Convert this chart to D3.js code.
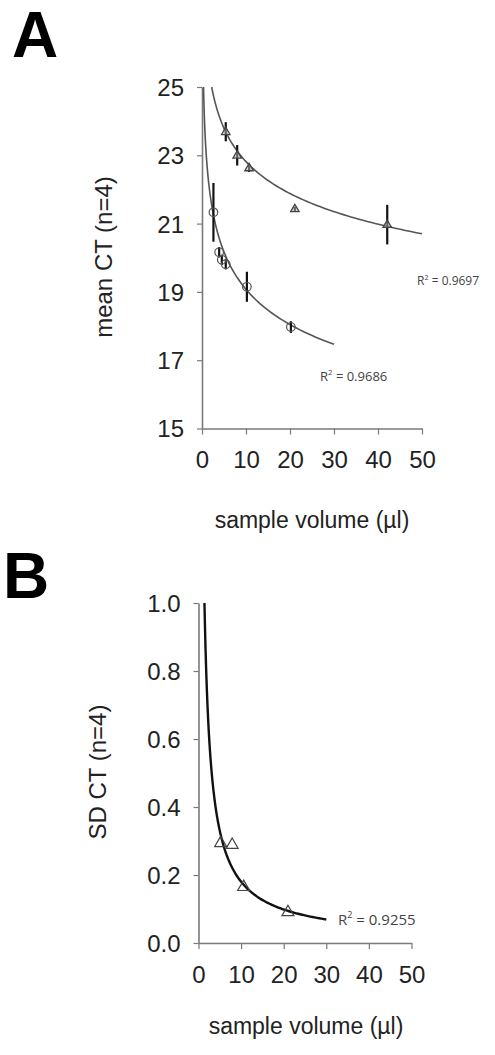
<!DOCTYPE html>
<html>
<head>
<meta charset="utf-8">
<script src="https://cdn.jsdelivr.net/npm/d3@7"></script>
<style>
  html, body { margin: 0; padding: 0; background: #fff; }
  svg { display: block; font-family: "Liberation Sans", Arial, sans-serif; }
  .tick text { fill: #222; }
  .r2 { font-family: "Open Sans", "DejaVu Sans", sans-serif; fill: #444; }
</style>
</head>
<body>
<svg id="chart" width="495" height="1055"></svg>
<script>
// ---- Panel A data: mean CT vs sample volume ----
const triVolA = [5.4, 8.0, 10.7, 21.1, 42.1];
const triMeanA = [23.69, 23.0, 22.63, 21.43, 20.97];
const triErrA = [0.28, 0.30, 0.12, 0.06, 0.58];

const circVolA = [2.6, 3.9, 4.5, 5.4, 10.2, 20.2];
const circMeanA = [21.33, 20.16, 19.94, 19.81, 19.15, 17.97];
const circErrA = [0.86, 0.15, 0.15, 0.15, 0.44, 0.17];

// power trendlines y = a * x^b  [a, b, xStart, xEnd]
const fitTriA = [26.22, -0.0604, 2.2, 50];
const fitCircA = [22.95, -0.0803, 0.345, 30];
const r2LabelsA = ["0.9697", "0.9686"];

// ---- Panel B data: SD CT vs sample volume ----
const triVolB = [5.2, 7.9, 10.6, 21.0];
const triSdB = [0.295, 0.29, 0.166, 0.092];
const fitB = [1.341, -0.8716, 1.4, 30];
const r2LabelB = "0.9255";

const xTicks = [0, 10, 20, 30, 40, 50];
const yTicksA = [15, 17, 19, 21, 23, 25];
const yTicksB = [0, 0.2, 0.4, 0.6, 0.8, 1.0];

const svg = d3.select("#chart");
const axisColor = "#7a7a7a";

function fitPoints(fit, n) {
  const [a, b, x0, x1] = fit;
  // trendline sampled in log space so the steep part stays smooth
  return d3.range(n + 1).map(i => {
    const x = x0 * Math.pow(x1 / x0, i / n);
    return [x, a * Math.pow(x, b)];
  });
}

function drawAxes(x, y, yTicks, yFmt) {
  const gx = svg.append("g")
    .attr("transform", `translate(0,${y.range()[0]})`)
    .call(d3.axisBottom(x).tickValues(xTicks).tickSize(6).tickSizeOuter(0).tickPadding(12));
  const gy = svg.append("g")
    .attr("transform", `translate(${x.range()[0]},0)`)
    .call(d3.axisLeft(y).tickValues(yTicks).tickFormat(yFmt).tickSize(5).tickSizeOuter(0).tickPadding(13));
  [gx, gy].forEach(g => {
    g.select(".domain").attr("stroke", axisColor).attr("stroke-width", 1.6);
    g.selectAll(".tick line").attr("stroke", axisColor).attr("stroke-width", 1.2);
    g.selectAll(".tick text").attr("font-size", 24).attr("font-family", "Liberation Sans, Arial, sans-serif");
  });
  gx.selectAll(".tick text").attr("dy", "0.9em");
  gy.selectAll(".tick text").attr("dy", "0.35em");
}

function triPath(cx, cy, s) {
  const h = s * 0.866;
  return `M${cx},${cy - h * 0.62} L${cx + s / 2},${cy + h * 0.38} L${cx - s / 2},${cy + h * 0.38} Z`;
}

// ===== Panel A =====
const xA = d3.scaleLinear().domain([0, 50]).range([202, 422]);
const yA = d3.scaleLinear().domain([15, 25]).range([428.5, 87]);

svg.append("text").attr("x", 12).attr("y", 57)
  .attr("font-size", 64).attr("font-weight", "bold").text("A");

drawAxes(xA, yA, yTicksA, d3.format("d"));

svg.append("clipPath").attr("id", "clipA")
  .append("rect").attr("x", 202).attr("y", 86).attr("width", 260).attr("height", 343);

const lineA = d3.line().x(d => xA(d[0])).y(d => yA(d[1]));
[fitTriA, fitCircA].forEach(f => {
  svg.append("path").attr("d", lineA(fitPoints(f, 120)))
    .attr("clip-path", "url(#clipA)")
    .attr("fill", "none").attr("stroke", "#555").attr("stroke-width", 1.6);
});

// error bars
function errBars(vols, means, errs, x, y) {
  vols.forEach((v, i) => {
    if (errs[i] <= 0) return;
    svg.append("line")
      .attr("x1", x(v)).attr("x2", x(v))
      .attr("y1", y(means[i] - errs[i])).attr("y2", y(means[i] + errs[i]))
      .attr("stroke", "#111").attr("stroke-width", 2.2);
  });
}
errBars(triVolA, triMeanA, triErrA, xA, yA);
errBars(circVolA, circMeanA, circErrA, xA, yA);

triVolA.forEach((v, i) => {
  svg.append("path").attr("d", triPath(xA(v), yA(triMeanA[i]), 8.5))
    .attr("fill", "#bbb").attr("fill-opacity", 0.5).attr("stroke", "#444").attr("stroke-width", 1.3);
});
circVolA.forEach((v, i) => {
  svg.append("circle").attr("cx", xA(v)).attr("cy", yA(circMeanA[i])).attr("r", 4.3)
    .attr("fill", "none").attr("stroke", "#555").attr("stroke-width", 1.2);
});

function r2Text(x, y, val, size) {
  const t = svg.append("text").attr("class", "r2").attr("x", x).attr("y", y).attr("font-size", size);
  t.append("tspan").text("R");
  t.append("tspan").attr("font-size", size * 0.6).attr("dy", -size * 0.45).text("2");
  t.append("tspan").attr("dy", size * 0.45).text(" = " + val);
}
r2Text(417, 285, r2LabelsA[0], 12);
r2Text(320, 381, r2LabelsA[1], 13);

svg.append("text")
  .attr("transform", `translate(112,257) rotate(-90)`)
  .attr("text-anchor", "middle").attr("font-size", 24).attr("fill", "#222")
  .text("mean CT (n=4)");
svg.append("text")
  .attr("x", 312).attr("y", 528)
  .attr("text-anchor", "middle").attr("font-size", 23).attr("fill", "#222")
  .text("sample volume (µl)");

// ===== Panel B =====
const xB = d3.scaleLinear().domain([0, 50]).range([198.5, 411.5]);
const yB = d3.scaleLinear().domain([0, 1]).range([943, 603]);

svg.append("text").attr("x", 3).attr("y", 598)
  .attr("font-size", 64).attr("font-weight", "bold").text("B");

drawAxes(xB, yB, yTicksB, d3.format(".1f"));

const lineB = d3.line().x(d => xB(d[0])).y(d => yB(d[1]));
svg.append("path").attr("d", lineB(fitPoints(fitB, 160)))
  .attr("fill", "none").attr("stroke", "#111").attr("stroke-width", 2.4);

triVolB.forEach((v, i) => {
  svg.append("path").attr("d", triPath(xB(v), yB(triSdB[i]), 12))
    .attr("fill", "none").attr("stroke", "#444").attr("stroke-width", 1.2);
});

r2Text(338, 925, r2LabelB, 15);

svg.append("text")
  .attr("transform", `translate(106,772) rotate(-90)`)
  .attr("text-anchor", "middle").attr("font-size", 24).attr("fill", "#222")
  .text("SD CT (n=4)");
svg.append("text")
  .attr("x", 306).attr("y", 1034)
  .attr("text-anchor", "middle").attr("font-size", 23).attr("fill", "#222")
  .text("sample volume (µl)");
</script>
</body>
</html>
